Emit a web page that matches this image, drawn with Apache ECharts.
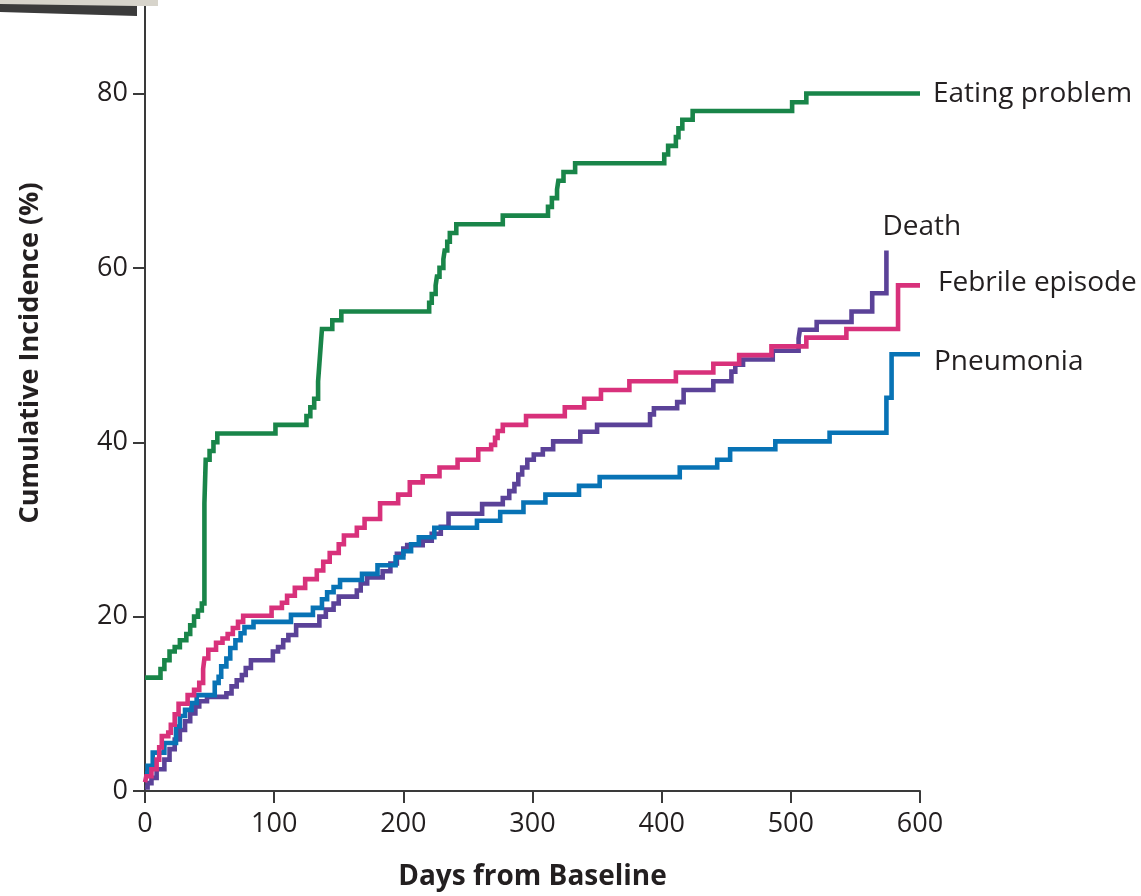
<!DOCTYPE html>
<html>
<head>
<meta charset="utf-8">
<script src="https://cdn.jsdelivr.net/npm/echarts@6/dist/echarts.min.js"></script>
<style>
html,body{margin:0;padding:0;background:#fff;}
#chart{width:1141px;height:896px;}
</style>
</head>
<body>
<div id="chart"></div>
<script>
// ---- Data ----
const xTicks = [0, 100, 200, 300, 400, 500, 600];
const yTicks = [0, 20, 40, 60, 80];

const eatingDays = [0,12,15,19,23,27,32,35,38,41,44,46,47,50,53,56,101,125,128,131,134,135,136,137,145,152,220,222,225,226,228,231,232,234,236,241,277,312,315,319,320,324,333,402,405,411,413,416,424,501,512,600];
const eatingPct  = [13,14,15,16,16.5,17.3,18,19,20,20.7,21.5,33,38,39,40,41,42,43,44,45,47,49,51,53,54,55,56,57,58,59,60,61,62,63,64,65,66,67,68,69,70,71,72,73,74,75,76,77,78,79,80,80];

const febrileDays = [0,1,5,9,11,13,18,20,23,26,33,38,42,45,46,49,55,60,64,68,72,76,98,106,110,116,124,133,138,143,150,154,164,170,182,196,205,215,228,242,258,268,271,273,277,295,325,340,353,375,411,440,460,485,512,543,583,600];
const febrilePct  = [1,1.7,2.5,3.6,5,6.3,6.7,7.6,8.8,10,11,11.6,12.4,14,15.2,16.2,17,17.5,18,18.7,19.4,20.1,21,21.6,22.4,23.3,24.3,25.3,26.3,27.3,28.3,29.3,30.2,31.2,33,34,35.4,36.1,37.1,38,39.2,39.7,40.5,41.3,42,43,44,45,46,47,48,49,50,51,52,53,58,58];

const pneumoniaDays = [0,2,6,15,24,27,31,36,40,54,57,59,63,66,70,74,77,84,113,130,137,141,146,151,168,180,194,200,206,212,224,257,275,293,310,336,352,414,443,453,488,530,574,578,600];
const pneumoniaPct  = [2,2.9,4.4,5.5,7.4,8.6,9.3,10.1,11,12.4,13.1,14.3,15.2,16.4,17.3,18.1,18.8,19.4,20.2,21,22,22.8,23.4,24.2,24.9,25.9,26.8,27.5,28.3,29.1,30.2,31,32,33.1,34,35,36,37.1,38,39.2,40.1,41.1,45.1,50.1,50.1];

const deathDays = [0,2,5,9,15,19,23,27,31,35,39,42,48,63,67,71,75,78,82,99,103,107,111,117,135,140,146,150,164,167,172,184,190,195,200,203,215,222,229,235,261,277,282,286,289,292,296,301,308,316,337,350,391,394,412,417,440,454,457,463,486,506,507,520,547,563,574];
const deathPct  = [0.4,0.9,1.5,2.5,3.6,4.8,5.9,7,8,8.9,9.7,10.3,10.8,11.2,12,12.7,13.3,14.1,15,16,16.5,17.3,17.9,19,20,20.8,21.5,22.3,23,23.8,24.5,25.2,26.1,27.2,27.8,28.2,28.7,29.5,30.3,31.8,32.9,33.6,34.4,35.2,36.3,37.1,38,38.6,39.2,40.1,41.2,42,43.2,43.9,44.6,46,47,48.1,48.9,49.5,50.5,51.9,52.9,53.8,55,57.1,62];

const seriesNames = ['Death', 'Pneumonia', 'Febrile episode', 'Eating problem'];
const xAxisTitle = 'Days from Baseline';
const yAxisTitle = 'Cumulative Incidence (%)';

// ---- Build ----
const zip = (a, b) => a.map((d, i) => [d, b[i]]);
const FONT = "'Open Sans', 'DejaVu Sans', sans-serif";
const TXT = '#231f20';
const AX = '#3a3a3a';

const defs = [
  {name: seriesNames[0], data: zip(deathDays, deathPct), color: '#5b4298', z: 3},
  {name: seriesNames[1], data: zip(pneumoniaDays, pneumoniaPct), color: '#0873b5', z: 4},
  {name: seriesNames[2], data: zip(febrileDays, febrilePct), color: '#d8317b', z: 5},
  {name: seriesNames[3], data: zip(eatingDays, eatingPct), color: '#198549', z: 6}
];

const chart = echarts.init(document.getElementById('chart'), null, {renderer: 'canvas'});
const Y_MAX = 90.73;

chart.setOption({
  animation: false,
  backgroundColor: '#ffffff',
  textStyle: {fontFamily: FONT},
  grid: {left: 145, right: 221, top: 0, bottom: 101, containLabel: false},
  xAxis: {
    type: 'value', min: 0, max: 600, interval: 100,
    axisLine: {show: true, lineStyle: {color: AX, width: 2}},
    axisTick: {show: true, length: 12, lineStyle: {color: AX, width: 2}},
    axisLabel: {color: TXT, fontSize: 27, fontFamily: FONT, margin: 20,
      formatter: v => xTicks.includes(v) ? String(v) : ''},
    splitLine: {show: false},
    name: xAxisTitle, nameLocation: 'middle', nameGap: 72,
    nameTextStyle: {color: TXT, fontSize: 28, fontWeight: 'bold', fontFamily: FONT}
  },
  yAxis: {
    type: 'value', min: 0, max: Y_MAX,
    axisLine: {show: true, onZero: false, lineStyle: {color: AX, width: 2}},
    axisTick: {show: true, length: 12, customValues: yTicks, lineStyle: {color: AX, width: 2}},
    axisLabel: {color: TXT, fontSize: 27, fontFamily: FONT, margin: 17, customValues: yTicks},
    splitLine: {show: false}
  },
  series: defs.map(d => ({
    type: 'line', name: d.name, data: d.data, step: 'end',
    showSymbol: false, symbol: 'none', z: d.z,
    lineStyle: {color: d.color, width: 4.6, join: 'miter', cap: 'butt'},
    itemStyle: {color: d.color},
    emphasis: {disabled: true}
  }))
});

// Series labels placed relative to each series' last data point
const offsets = {
  'Eating problem': [13, 0, 'left'],
  'Febrile episode': [18, -2, 'left'],
  'Pneumonia': [14, 8, 'left'],
  'Death': [-4, -23, 'left']
};
const texts = defs.map(d => {
  const last = d.data[d.data.length - 1];
  const p = chart.convertToPixel({gridIndex: 0}, last);
  const o = offsets[d.name];
  return {
    type: 'text', x: p[0] + o[0], y: p[1] + o[1], z: 20,
    style: {text: d.name, fill: TXT, font: '28px ' + FONT, align: o[2], verticalAlign: 'middle'}
  };
});

texts.push({
  type: 'text', x: 30, y: 353, rotation: Math.PI / 2, z: 20,
  style: {text: yAxisTitle, fill: TXT, font: 'bold 27px ' + FONT, align: 'center', verticalAlign: 'middle'}
});

// scan artifact at the top-left of the reference
texts.push({type: 'rect', shape: {x: 0, y: 0, width: 158, height: 6}, style: {fill: '#d7d4cb'}, z: 30});
texts.push({type: 'polygon', shape: {points: [[0, 4], [137, 6], [137, 16], [0, 12]]}, style: {fill: '#3b3b3b'}, z: 31});

chart.setOption({graphic: texts});
</script>
</body>
</html>
